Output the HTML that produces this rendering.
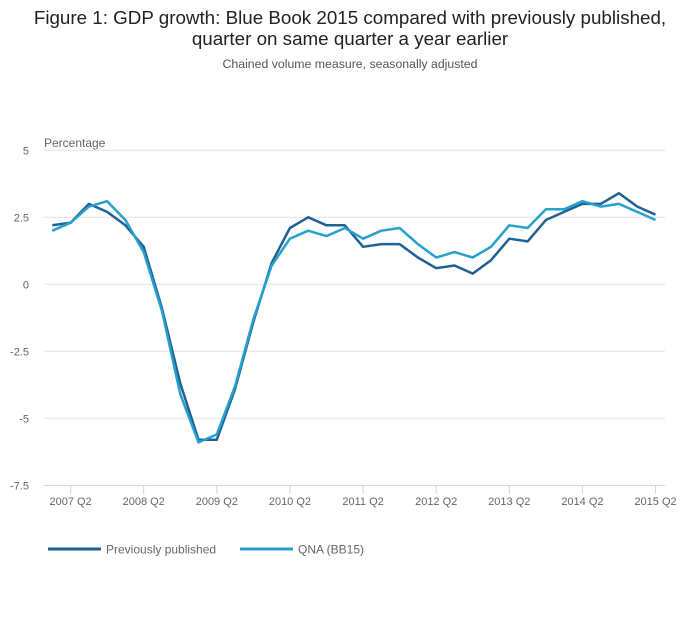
<!DOCTYPE html>
<html><head><meta charset="utf-8"><style>
body{margin:0;background:#fff;font-family:"Liberation Sans",sans-serif;}
svg text{font-family:"Liberation Sans",sans-serif;}
</style></head><body>
<svg id="chart" width="700" height="635" xmlns="http://www.w3.org/2000/svg">
<text x="350" y="24" text-anchor="middle" font-size="18.8" fill="#222">Figure 1: GDP growth: Blue Book 2015 compared with previously published,</text>
<text x="350" y="45" text-anchor="middle" font-size="18.8" fill="#222">quarter on same quarter a year earlier</text>
<text x="350" y="68" text-anchor="middle" font-size="12.3" fill="#555">Chained volume measure, seasonally adjusted</text>
<text x="44" y="147" font-size="12" fill="#666">Percentage</text>
<g id="grid"></g><g id="xaxis"></g><g id="series"></g>
<g>
<line x1="48" y1="549" x2="101" y2="549" stroke="#206095" stroke-width="3"/>
<text x="106" y="553.5" font-size="12" fill="#666">Previously published</text>
<line x1="240" y1="549" x2="293" y2="549" stroke="#27a0cc" stroke-width="3"/>
<text x="298" y="553.5" font-size="12" fill="#666">QNA (BB15)</text>
</g>
</svg>
<script>
const yTicks=[5,2.5,0,-2.5,-5,-7.5];
const yTickLabels=["5","2.5","0","-2.5","-5","-7.5"];
const xTickLabels=["2007 Q2","2008 Q2","2009 Q2","2010 Q2","2011 Q2","2012 Q2","2013 Q2","2014 Q2","2015 Q2"];
const xTickIdx=[1,5,9,13,17,21,25,29,33];
const previous=[2.2,2.3,3.0,2.7,2.2,1.4,-0.9,-3.7,-5.8,-5.8,-3.9,-1.4,0.8,2.1,2.5,2.2,2.2,1.4,1.5,1.5,1.0,0.6,0.7,0.4,0.9,1.7,1.6,2.4,2.7,3.0,3.0,3.4,2.9,2.6];
const qna=[2.0,2.3,2.9,3.1,2.4,1.2,-1.0,-4.1,-5.9,-5.6,-3.8,-1.3,0.7,1.7,2.0,1.8,2.1,1.7,2.0,2.1,1.5,1.0,1.2,1.0,1.4,2.2,2.1,2.8,2.8,3.1,2.9,3.0,2.7,2.4];
const NS="http://www.w3.org/2000/svg";
const x=i=>52.3+i*18.28;
const y=v=>284.3-v*26.8;
function mk(t,a,p){const e=document.createElementNS(NS,t);for(const k in a)e.setAttribute(k,a[k]);p.appendChild(e);return e;}
const grid=document.getElementById('grid');
yTicks.forEach((v,i)=>{
 if(v>-7.5){const l=mk('line',{x1:44,x2:665,y1:y(v),y2:y(v),stroke:'#e2e2e2','stroke-width':1},grid);
 
 }
 const t=mk('text',{x:29,y:y(v)+4,'font-size':11,fill:'#666','text-anchor':'end'},grid);t.textContent=yTickLabels[i];
 
 
});
const xa=document.getElementById('xaxis');
const ax=mk('line',{x1:44,x2:665,y1:485.5,y2:485.5,stroke:'#ccd6e6','stroke-width':1},xa);


xTickIdx.forEach((idx,i)=>{
 const tk=mk('line',{x1:x(idx),x2:x(idx),y1:485.5,y2:494,stroke:'#ccd6e6','stroke-width':1},xa);
 
 
 const t=mk('text',{x:x(idx),y:505,'font-size':11,fill:'#666','text-anchor':'middle'},xa);t.textContent=xTickLabels[i];
 
 
});
const sg=document.getElementById('series');
function line(data,color,name){
 const p=mk('path',{d:data.map((v,i)=>(i?'L':'M')+x(i).toFixed(1)+' '+y(v).toFixed(1)).join(' '),fill:'none',stroke:color,'stroke-width':2.5,'stroke-linejoin':'round'},sg);
 
 
}
line(previous,'#206095','line-previously-published');
line(qna,'#27a0cc','line-qna-bb15');
</script>
</body></html>
